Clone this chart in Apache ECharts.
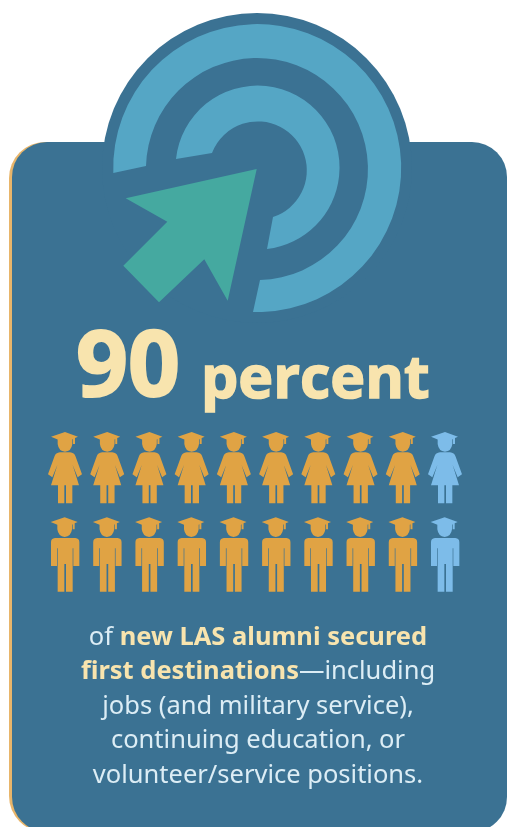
<!DOCTYPE html>
<html>
<head>
<meta charset="utf-8">
<style>html,body{margin:0;padding:0;background:#fff}#chart{width:508px;height:827px}</style>
<script src="https://cdn.jsdelivr.net/npm/echarts@6/dist/echarts.min.js"></script>
</head>
<body>
<div id="chart"></div>
<script>
// Ten figures per row; a 1 means that alumnus secured a first destination.
const people = ['1', '2', '3', '4', '5', '6', '7', '8', '9', '10'];
const rows = ['men', 'women'];
const womenSecured = [1, 1, 1, 1, 1, 1, 1, 1, 1, 0];
const menSecured = [1, 1, 1, 1, 1, 1, 1, 1, 1, 0];
const headlineNumber = '90';
const headlineUnit = 'percent';

const PANEL = '#3b7293';
const RING = '#55a6c5';
const ARROW = '#45a9a0';
const GOLD = '#e0a344';
const SKY = '#7dbce9';
const CREAM = '#f8e4ae';
const BODY = '#dcedf5';

// Mortarboard with tassel and head, shared by both figures (dy shifts it down).
function capAndHead(dy) {
  const y = v => v + dy;
  return `M63 ${y(50)} L105 ${y(36)} L144 ${y(50)} L135 ${y(54)} L135 ${y(72)} L129 ${y(72)} L129 ${y(57)} L127 ${y(58)} ` +
    `L127 ${y(72)} Q124 ${y(94)} 105 ${y(95)} Q86 ${y(94)} 83 ${y(72)} L83 ${y(58)} Z `;
}
const womanPath = 'path://' + capAndHead(0) +
  'M90 97L120 97Q133 98 137 110L156 163L143 172L128 135L147 196L127 196L127 250L108 250L108 196L103 196L103 250L84 250L84 196L63 196L82 135L67 172L54 163L73 110Q77 98 90 97Z';
const manPath = 'path://' + capAndHead(256) +
  'M76 354L137 354Q149 355 149 367L149 438L131 438L131 385L129 385L129 515L109 515L109 432L104 432L104 515L84 515L84 385L82 385L82 438L64 438L64 367Q64 355 76 354Z';

const figureSeries = (name, flags, symbol, size) => ({
  type: 'scatter',
  name,
  clip: false,
  silent: true,
  z: 4,
  symbol,
  symbolSize: size,
  data: flags.map((f, i) => ({
    value: [people[i], name],
    itemStyle: { color: f ? GOLD : SKY, opacity: 1 }
  }))
});

// The two open rings of the target emblem, drawn as free-standing paths.
const ringPaths = [
  'M113.3 173A144 144 0 1 1 253 312L260 280A111 111 0 1 0 146 166Z',
  'M176 159A82 82 0 1 1 267 249L273 217A49 49 0 1 0 212 153Z'
];
const ringSeries = {
  type: 'custom',
  coordinateSystem: 'none',
  silent: true,
  z: 2,
  data: ringPaths.map((_, i) => i),
  renderItem: (params) => ({
    type: 'path',
    shape: { pathData: ringPaths[params.dataIndex] },
    style: { fill: RING }
  })
};

const bodyLine = (rich, y) => ({
  type: 'text',
  z: 6,
  x: 258,
  y,
  style: {
    text: rich,
    align: 'center',
    verticalAlign: 'middle',
    rich: {
      n: { fontFamily: 'Noto Sans', fontSize: 25.5, fill: BODY, color: BODY },
      b: { fontFamily: 'Noto Sans', fontSize: 25.5, fontWeight: 'bold', fill: CREAM, color: CREAM }
    }
  }
});

const chart = echarts.init(document.getElementById('chart'), null, { renderer: 'canvas' });
chart.setOption({
  animation: false,
  backgroundColor: '#ffffff',
  grid: { left: 65, width: 380, top: 467.7, height: 86.8 },
  xAxis: { type: 'category', data: people, boundaryGap: false, show: false },
  yAxis: { type: 'category', data: rows, boundaryGap: false, show: false },
  series: [
    ringSeries,
    figureSeries('women', womenSecured, womanPath, [34, 71.3]),
    figureSeries('men', menSecured, manPath, [28.7, 74.3])
  ],
  graphic: { elements: [
    { type: 'rect', z: -3, shape: { x: 9, y: 142, width: 480, height: 690, r: 36 }, style: { fill: '#e8b56a' } },
    { type: 'rect', z: -2, shape: { x: 12, y: 142, width: 495, height: 690, r: 35 }, style: { fill: PANEL } },
    { type: 'circle', z: -2, shape: { cx: 257, cy: 168, r: 155 }, style: { fill: PANEL } },
    { type: 'polygon', z: 6, shape: { points: [[256.7, 169], [125.7, 198.3], [167.3, 221.7], [123.3, 265.7], [159, 302.3], [204.3, 259.3], [227.7, 300.7]] }, style: { fill: ARROW } },
    { type: 'text', z: 6, x: 76, y: 370, style: { text: headlineNumber, fontFamily: 'Open Sans', fontWeight: 'bold', fontSize: 91, fill: CREAM, stroke: CREAM, lineWidth: 2, verticalAlign: 'middle' } },
    { type: 'text', z: 6, x: 201, y: 381, style: { text: headlineUnit, fontFamily: 'Open Sans', fontWeight: 'bold', fontSize: 59, fill: CREAM, stroke: CREAM, lineWidth: 1.5, verticalAlign: 'middle' } },
    bodyLine('{n|of }{b|new LAS alumni secured}', 638),
    bodyLine('{b|first destinations}{n|—including}', 672),
    bodyLine('{n|jobs (and military service),}', 707),
    bodyLine('{n|continuing education, or}', 741),
    bodyLine('{n|volunteer/service positions.}', 776)
  ] }
});
</script>
</body>
</html>
